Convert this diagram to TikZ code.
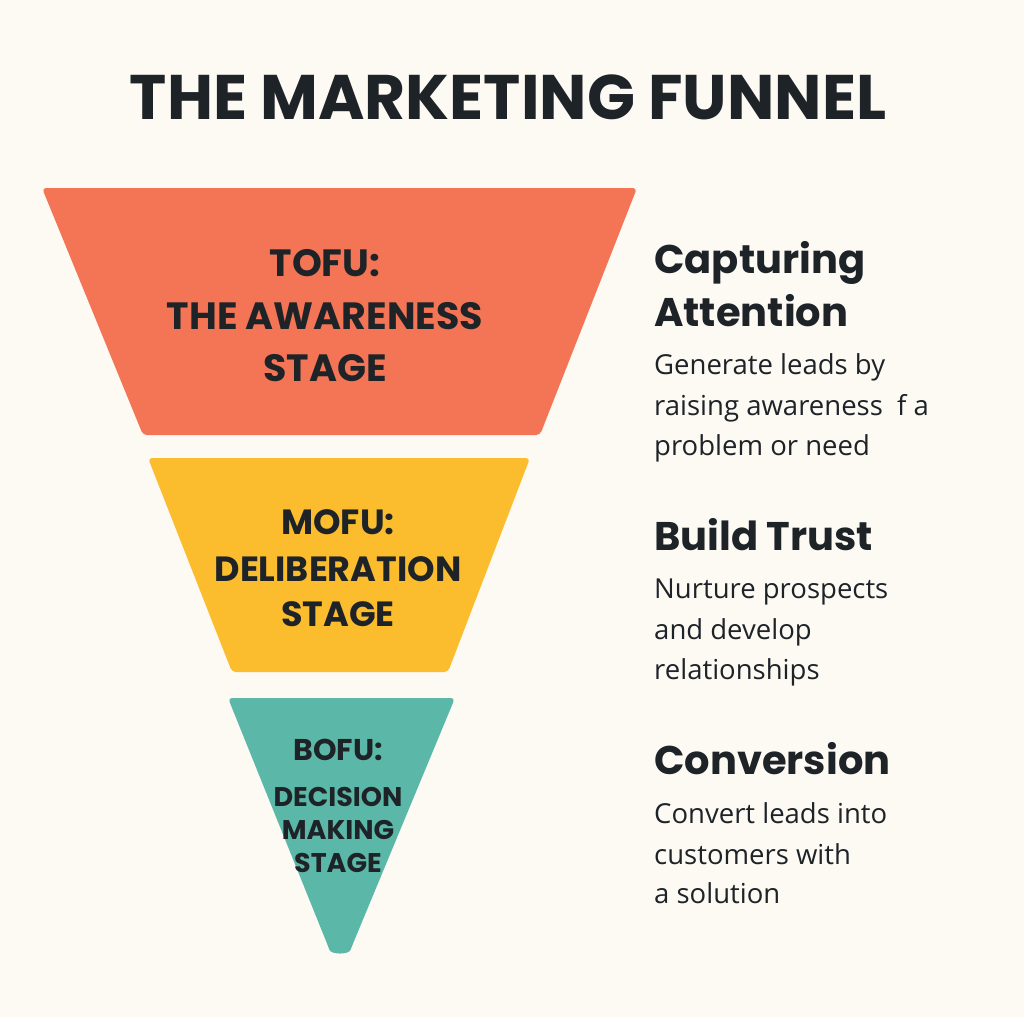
\documentclass[tikz,border=0pt]{standalone}
\usepackage{fontspec}
\setmainfont{Open Sans}
\newfontfamily\headfont{Poppins}
\definecolor{bg}{HTML}{FDFAF4}
\definecolor{ink}{HTML}{1E2328}
\definecolor{tofuc}{HTML}{F47555}
\definecolor{mofuc}{HTML}{FBBC2E}
\definecolor{bofuc}{HTML}{5BB8A8}
\begin{document}
\begin{tikzpicture}[x=1pt,y=-1pt,
  stagetxt/.style={font=\headfont\bfseries\fontsize{#1}{#1}\selectfont,text=ink,anchor=base,inner sep=0},
  headtxt/.style={font=\headfont\bfseries\fontsize{40}{48}\selectfont,text=ink,anchor=base west,inner sep=0},
  bodytxt/.style={font=\fontsize{27.5}{33}\selectfont,text=ink,anchor=base west,inner sep=0},
  band/.style={rounded corners=4pt}]
\fill[bg] (0,0) rectangle (1024,1017);
\useasboundingbox (0,0) rectangle (1024,1017);
\node[font=\headfont\bfseries\fontsize{63}{70}\selectfont,text=ink,anchor=base,inner sep=0] (title) at (508,119) {THE MARKETING FUNNEL};
\fill[band,tofuc] (42,188) -- (637,188) -- (540,435) -- (143,435) -- cycle;
\fill[band,mofuc] (148,458) -- (530,458) -- (448,672) -- (232,672) -- cycle;
\fill[bofuc,rounded corners=4pt] (228,698) -- (455,698) -- (352,946) to[out=-110,in=-70,looseness=1] (328,946) -- cycle;
\node[stagetxt=38] (t1) at (325,276) {TOFU:};
\node[stagetxt=38] (t2) at (325,329) {THE AWARENESS};
\node[stagetxt=38] (t3) at (325,381) {STAGE};
\node[stagetxt=35] (m1) at (338,534) {MOFU:};
\node[stagetxt=35] (m2) at (338,581) {DELIBERATION};
\node[stagetxt=35] (m3) at (338,626) {STAGE};
\node[stagetxt=30] (o1) at (338,760) {BOFU:};
\node[stagetxt=27] (o2) at (338,806) {DECISION};
\node[stagetxt=27] (o3) at (338,839) {MAKING};
\node[stagetxt=27] (o4) at (338,872) {STAGE};
\node[headtxt] (h1a) at (654,273) {Capturing};
\node[headtxt] (h1b) at (654,326) {Attention};
\node[bodytxt] (b1a) at (654,374) {Generate leads by};
\node[bodytxt] (b1b) at (654,415) {raising awareness\ \ f a};
\node[bodytxt] (b1c) at (654,455) {problem or need};
\node[headtxt] (h2) at (654,550) {Build Trust};
\node[bodytxt] (b2a) at (654,598) {Nurture prospects};
\node[bodytxt] (b2b) at (654,639) {and develop};
\node[bodytxt] (b2c) at (654,679) {relationships};
\node[headtxt] (h3) at (654,774) {Conversion};
\node[bodytxt] (b3a) at (654,823) {Convert leads into};
\node[bodytxt] (b3b) at (654,864) {customers with};
\node[bodytxt] (b3c) at (654,903) {a solution};
\end{tikzpicture}
\end{document}
